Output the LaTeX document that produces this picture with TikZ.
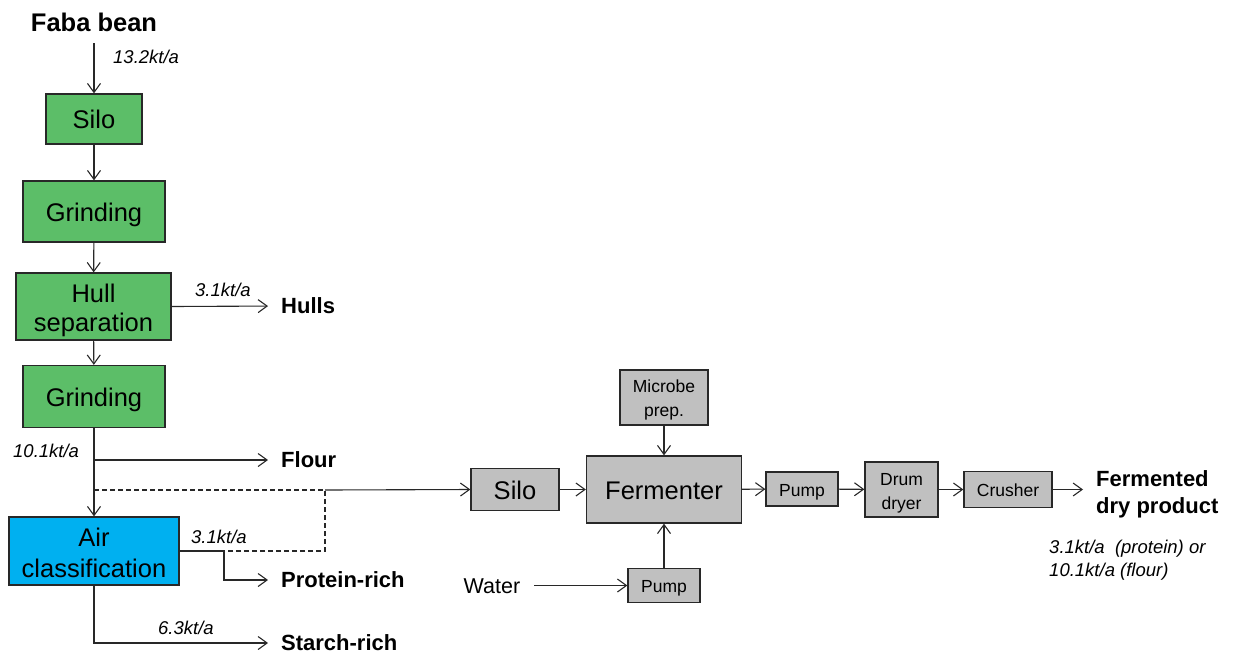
\documentclass[tikz,border=0pt]{standalone}
\usepackage{fontspec}
\setmainfont{Liberation Sans}
\usetikzlibrary{arrows.meta}
\definecolor{procgreen}{RGB}{92,190,104}
\definecolor{procblue}{RGB}{0,176,240}
\definecolor{procgray}{RGB}{192,192,192}
\definecolor{edge}{RGB}{40,40,40}
\newcommand{\bigfont}{\fontsize{25.5}{29}\selectfont}
\newcommand{\smallfont}{\fontsize{17.5}{24}\selectfont}
\newcommand{\flowfont}{\fontsize{18.5}{22.5}\selectfont\itshape}
\newcommand{\outfont}{\fontsize{22}{27}\selectfont\bfseries}
\begin{document}
\begin{tikzpicture}[x=1pt,y=-1pt,
  box/.style={draw=edge,line width=1.3pt,rectangle,inner sep=0pt,align=center},
  bigbox/.style={box,font=\bigfont,text height=22pt,text depth=3pt},
  greenbox/.style={bigbox,fill=procgreen},
  bluebox/.style={bigbox,fill=procblue},
  graybox/.style={bigbox,fill=procgray},
  smallbox/.style={box,fill=procgray,font=\smallfont,text height=16pt,text depth=1.2pt},
  outlbl/.style={anchor=west,inner sep=0pt,font=\outfont,align=left},
  flowlbl/.style={anchor=west,inner sep=0pt,font=\flowfont,align=left},
  arr/.style={-{Straight Barb[length=9pt,width=13pt]},line width=1.1pt,draw=edge},
  dashline/.style={line width=1.1pt,draw=edge,dash pattern=on 5pt off 3pt}]
\useasboundingbox (0,0) rectangle (1238,659);

% ---- dry fractionation chain ----
\node[inner sep=0pt,font=\fontsize{25.5}{30}\selectfont\bfseries] (faba) at (94,22) {Faba bean};
\coordinate (fabaout) at (94,43);
\node[greenbox,minimum width=96pt,minimum height=50pt] (silo1) at (94,119) {Silo};
\node[greenbox,minimum width=142pt,minimum height=61pt] (grind1) at (94,211.5) {Grinding};
\node[greenbox,text height=50pt,text depth=0.6pt,minimum width=155pt,minimum height=67pt] (hull) at (93.5,306.5) {Hull\\separation};
\node[greenbox,minimum width=142pt,minimum height=62pt] (grind2) at (94,396.5) {Grinding};
\node[bluebox,text height=53pt,text depth=0.6pt,minimum width=170pt,minimum height=68pt] (air) at (94,551) {Air\\[2pt]classification};

% ---- outputs of the fractionation ----
\node[outlbl] (hulls) at (281,306) {Hulls};
\node[outlbl] (flour) at (281,460) {Flour};
\node[outlbl] (protein) at (281,580) {Protein-rich};
\node[outlbl] (starch) at (281,643) {Starch-rich};

% ---- mass flow labels ----
\node[flowlbl] (f132) at (113,57) {13.2kt/a};
\node[flowlbl] (f31h) at (195,290) {3.1kt/a};
\node[flowlbl] (f101) at (13,451) {10.1kt/a};
\node[flowlbl] (f31p) at (191,537) {3.1kt/a};
\node[flowlbl] (f63) at (158,628) {6.3kt/a};

% ---- fermentation line ----
\node[graybox,minimum width=88pt,minimum height=42pt] (silo2) at (515,489.5) {Silo};
\node[graybox,minimum width=155pt,minimum height=67pt] (ferm) at (664,489.5) {Fermenter};
\node[smallbox,text height=38pt,text depth=0.4pt,minimum width=88pt,minimum height=55pt] (microbe) at (664,397.5) {Microbe\\prep.};
\node[smallbox,minimum width=72pt,minimum height=34pt] (pumpb) at (664,585.5) {Pump};
\node[inner sep=0pt,font=\fontsize{21.5}{26}\selectfont] (water) at (492,586) {Water};
\node[smallbox,minimum width=72pt,minimum height=34pt] (pumpr) at (802,489) {Pump};
\node[smallbox,text height=40pt,text depth=0.4pt,minimum width=73pt,minimum height=55pt] (drum) at (901.5,489.5) {Drum\\dryer};
\node[smallbox,minimum width=88pt,minimum height=36pt] (crusher) at (1008,489.5) {Crusher};
\node[outlbl] (product) at (1096,494) {Fermented\\dry product};
\node[flowlbl] (fprod) at (1049,560) {3.1kt/a~~(protein) or\\10.1kt/a (flour)};

% ---- connectors of the fractionation chain ----
\draw[arr] (fabaout) -- (silo1);
\draw[arr] (silo1) -- (grind1);
\draw[arr] (grind1) -- (hull);
\draw[arr] (hull) -- (grind2);
\draw[arr] (grind2) -- (air);
\draw[arr,shorten >=13pt] (hull.east) -- (hulls.west);
\coordinate (flourtap) at (94,460);
\draw[arr,shorten >=13pt] (flourtap) -- (flour.west);
\draw[arr,shorten >=13pt] (air.south) |- (starch.west);
\coordinate (protturn) at (224,551);
\draw[arr,shorten >=13pt] (air.east) -- (protturn) |- (protein.west);

% ---- optional feeds to the fermentation silo ----
\coordinate (dA) at (94,490);
\coordinate (dB) at (325,490);
\coordinate (dC) at (325,551);
\draw[dashline] (dA) -- (dB) -- (dC) -- (protturn);
\draw[arr] (dB) -- (silo2.west);

% ---- connectors of the fermentation line ----
\draw[arr] (silo2) -- (ferm);
\draw[arr] (microbe) -- (ferm);
\draw[arr] (pumpb) -- (ferm);
\draw[arr,shorten <=14pt] (pumpb.west -| water.east) -- (pumpb.west);
\draw[arr] (ferm) -- (pumpr);
\draw[arr] (pumpr) -- (drum);
\draw[arr] (drum) -- (crusher);
\draw[arr,shorten >=13pt] (crusher.east) -- (product.west |- crusher.east);
\end{tikzpicture}
\end{document}
